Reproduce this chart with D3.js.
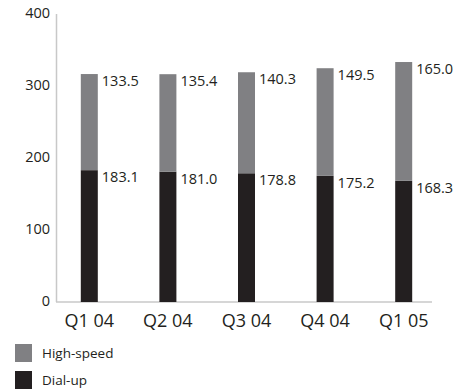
<!DOCTYPE html>
<html>
<head>
<meta charset="utf-8">
<script src="https://cdn.jsdelivr.net/npm/d3@7"></script>
<style>
  html, body { margin: 0; padding: 0; background: #fff; }
  svg { display: block; }
  text { font-family: "Open Sans", "Noto Sans", sans-serif; fill: #231f20; }
</style>
</head>
<body>
<svg id="chart" width="468" height="389"></svg>
<script>
// Subscribers by quarter (thousands)
const quarters = ["Q1 04", "Q2 04", "Q3 04", "Q4 04", "Q1 05"];
const dialUp = [183.1, 181.0, 178.8, 175.2, 168.3];
const highSpeed = [133.5, 135.4, 140.3, 149.5, 165.0];
const yTicks = [0, 100, 200, 300, 400];
const seriesNames = ["High-speed", "Dial-up"];
const colors = { "High-speed": "#808083", "Dial-up": "#231f20" };

const svg = d3.select("#chart");

const y = d3.scaleLinear().domain([0, 400]).range([302, 14]);
const x = d3.scaleBand().domain(quarters).range([50, 443]);
const barW = 17;

const rows = quarters.map((q, i) => ({ q, dial: dialUp[i], high: highSpeed[i] }));

// Axes
svg.append("line").attr("x1", 56.5).attr("x2", 56.5).attr("y1", 14).attr("y2", 302)
  .attr("stroke", "#c8c8c8").attr("stroke-width", 1.5);
svg.append("line").attr("x1", 56).attr("x2", 432).attr("y1", 302).attr("y2", 302)
  .attr("stroke", "#c8c8c8").attr("stroke-width", 1.5);

svg.selectAll("text.ytick").data(yTicks).join("text")
  .attr("class", "ytick")
  .attr("x", 50).attr("y", d => y(d))
  .attr("text-anchor", "end").attr("dominant-baseline", "middle")
  .attr("font-size", 14.5)
  .text(d => d);

svg.selectAll("text.xtick").data(quarters).join("text")
  .attr("class", "xtick")
  .attr("x", d => x(d) + x.bandwidth() / 2).attr("y", 327)
  .attr("text-anchor", "middle")
  .attr("font-size", 18)
  .text(d => d);

// Stacked bars
const g = svg.selectAll("g.bar").data(rows).join("g").attr("class", "bar");
g.append("rect")
  .attr("x", d => x(d.q) + x.bandwidth() / 2 - barW / 2)
  .attr("width", barW)
  .attr("y", d => y(d.dial))
  .attr("height", d => y(0) - y(d.dial))
  .attr("fill", colors["Dial-up"]);
g.append("rect")
  .attr("x", d => x(d.q) + x.bandwidth() / 2 - barW / 2)
  .attr("width", barW)
  .attr("y", d => y(d.dial + d.high))
  .attr("height", d => y(d.dial) - y(d.dial + d.high))
  .attr("fill", colors["High-speed"]);

// Value labels beside each segment
g.append("text")
  .attr("x", d => x(d.q) + x.bandwidth() / 2 + barW / 2 + 4)
  .attr("y", d => y(d.dial + d.high) + 8)
  .attr("dominant-baseline", "middle")
  .attr("font-size", 14.5)
  .text(d => d.high.toFixed(1));
g.append("text")
  .attr("x", d => x(d.q) + x.bandwidth() / 2 + barW / 2 + 4)
  .attr("y", d => y(d.dial) + 8)
  .attr("dominant-baseline", "middle")
  .attr("font-size", 14.5)
  .text(d => d.dial.toFixed(1));

// Legend
const leg = svg.selectAll("g.legend").data(seriesNames).join("g")
  .attr("class", "legend")
  .attr("transform", (d, i) => `translate(15, ${344 + i * 27})`);
leg.append("rect").attr("width", 17).attr("height", 18).attr("fill", d => colors[d]);
leg.append("text").attr("x", 27).attr("y", 10)
  .attr("dominant-baseline", "middle")
  .attr("font-size", 13.5)
  .text(d => d);
</script>
</body>
</html>
